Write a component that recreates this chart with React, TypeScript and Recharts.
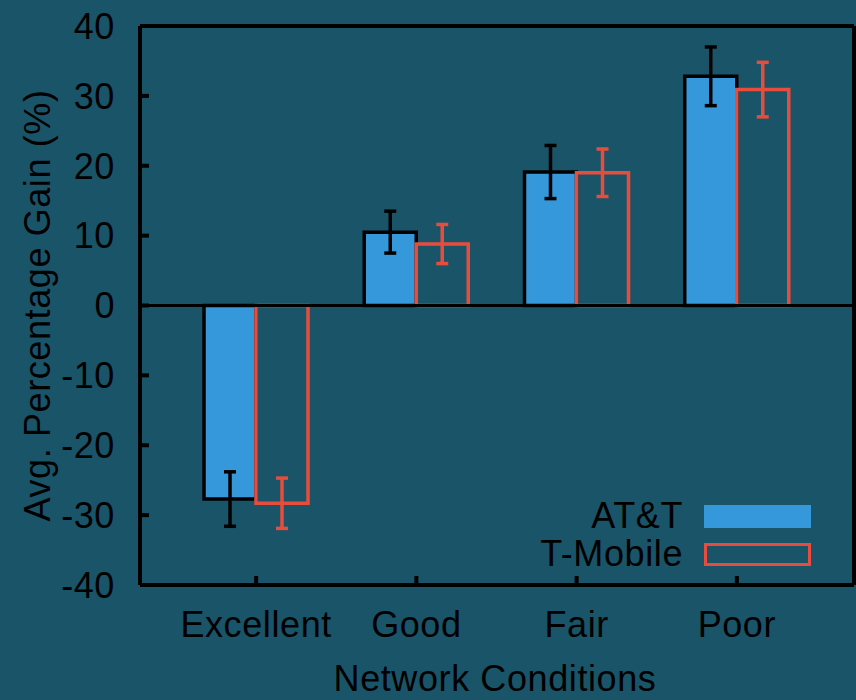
import React from 'react'
import {
  BarChart,
  Bar,
  XAxis,
  YAxis,
  ErrorBar,
  ReferenceLine,
  Legend,
  Label,
} from 'recharts'

// values read off the reference figure
const categories = ['Excellent', 'Good', 'Fair', 'Poor']
const attGain = [-27.7, 10.5, 19.1, 32.8]
const attErr = [3.9, 3.0, 3.8, 4.2]
const tmoGain = [-28.3, 8.8, 19.0, 30.9]
const tmoErr = [3.6, 2.8, 3.4, 3.9]
const yTicks = [-40, -30, -20, -10, 0, 10, 20, 30, 40]
const seriesNames = ['AT&T', 'T-Mobile']

const BG = '#1a5468'
const BLUE = '#3498db'
const RED = '#e74c3c'
const FONT = '"Liberation Sans", Arial, Helvetica, sans-serif'

const data = categories.map((cat, i) => ({
  cat,
  att: attGain[i],
  attErr: attErr[i],
  tmo: tmoGain[i],
  tmoErr: tmoErr[i],
}))

const tickStyle = { fill: '#000', fontSize: 36, fontFamily: FONT, letterSpacing: 0.6 }
const frame = { stroke: '#000', strokeWidth: 4 }

function LegendBox() {
  return (
    <div style={{ fontFamily: FONT, fontSize: 36, color: '#000', letterSpacing: 0.6 }}>
      {seriesNames.map((name, i) => (
        <div key={name} style={{ display: 'flex', alignItems: 'center', height: 38, lineHeight: '38px' }}>
          <span style={{ width: 163, textAlign: 'right', whiteSpace: 'nowrap' }}>{name}</span>
          <span
            style={{
              marginLeft: 21,
              width: 107,
              height: 23,
              boxSizing: 'border-box',
              background: i === 0 ? BLUE : 'transparent',
              border: i === 0 ? 'none' : `3.5px solid ${RED}`,
            }}
          />
        </div>
      ))}
    </div>
  )
}

export default function App() {
  return (
    <div style={{ position: 'absolute', left: 0, top: 0, width: 856, height: 700, background: BG }}>
      <BarChart
        width={856}
        height={700}
        data={data}
        barGap={0}
        margin={{ top: 0, right: 0, bottom: 0, left: 0 }}
      >
        <XAxis
          xAxisId="b"
          dataKey="cat"
          height={115}
          interval={0}
          padding={{ left: 36, right: 37 }}
          axisLine={frame}
          tickLine={frame}
          tickSize={-9}
          tickMargin={35}
          tick={tickStyle}
        >
          <Label
            content={({ viewBox }: any) => (
              <text
                x={viewBox.x + viewBox.width / 2 - 2}
                y={viewBox.y + viewBox.height - 9}
                textAnchor="middle"
                fill="#000"
                fontSize={36}
                fontFamily={FONT}
                letterSpacing={0.6}
              >
                Network Conditions
              </text>
            )}
          />
        </XAxis>
        <XAxis
          xAxisId="t"
          dataKey="cat"
          orientation="top"
          height={26}
          interval={0}
          padding={{ left: 36, right: 37 }}
          axisLine={frame}
          tickLine={frame}
          tickSize={-9}
          tick={false}
        />
        <YAxis
          yAxisId="l"
          width={140}
          domain={[-40, 40]}
          ticks={yTicks}
          interval={0}
          axisLine={frame}
          tickLine={frame}
          tickSize={-9}
          tickMargin={34}
          tick={tickStyle}
        >
          <Label
            content={({ viewBox }: any) => {
              const cx = 50
              const cy = viewBox.y + viewBox.height / 2
              return (
                <text
                  x={cx}
                  y={cy}
                  transform={`rotate(-90, ${cx}, ${cy})`}
                  textAnchor="middle"
                  fill="#000"
                  fontSize={36}
                  fontFamily={FONT}
                  letterSpacing={0.6}
                >
                  Avg. Percentage Gain (%)
                </text>
              )
            }}
          />
        </YAxis>
        <YAxis
          yAxisId="r"
          orientation="right"
          width={2}
          domain={[-40, 40]}
          ticks={yTicks}
          interval={0}
          axisLine={frame}
          tickLine={frame}
          tickSize={-9}
          tick={false}
        />
        <ReferenceLine xAxisId="b" yAxisId="l" y={0} stroke="#000" strokeWidth={3} />
        <Bar
          xAxisId="b"
          yAxisId="l"
          dataKey="att"
          name="AT&T"
          fill={BLUE}
          stroke="#000"
          strokeWidth={3.5}
          barSize={52}
          isAnimationActive={false}
        >
          <ErrorBar dataKey="attErr" direction="y" width={6} stroke="#000" strokeWidth={3.5} />
        </Bar>
        <Bar
          xAxisId="b"
          yAxisId="l"
          dataKey="tmo"
          name="T-Mobile"
          fill="none"
          stroke={RED}
          strokeWidth={3.5}
          barSize={52}
          isAnimationActive={false}
        >
          <ErrorBar dataKey="tmoErr" direction="y" width={6} stroke={RED} strokeWidth={3.5} />
        </Bar>
        <Legend
          layout="vertical"
          align="center"
          verticalAlign="middle"
          content={() => <LegendBox />}
          wrapperStyle={{ left: 520, top: 497, width: 300 }}
        />
      </BarChart>
    </div>
  )
}
